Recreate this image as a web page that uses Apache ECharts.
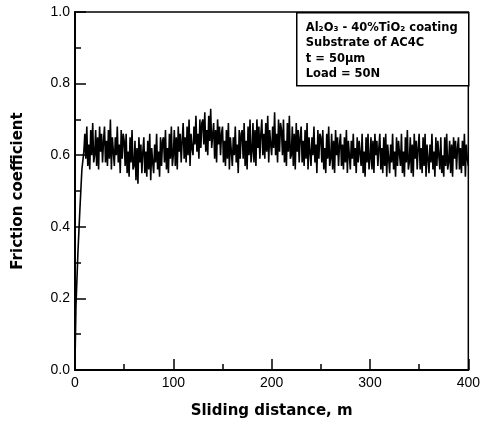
<!DOCTYPE html>
<html><head><meta charset="utf-8">
<script src="https://cdn.jsdelivr.net/npm/echarts@6/dist/echarts.min.js"></script>
<style>html,body{margin:0;padding:0;background:#fff}#c{width:483px;height:424px}</style>
</head><body><div id="c"></div>
<script>
// Run-in (start-up) segment: distance (m) and friction coefficient
const rampDistance = [0, 1, 3, 5, 7, 9];
const rampFriction = [0.02, 0.18, 0.33, 0.45, 0.56, 0.61];
// Steady-state recording: one reading per metre starting at 10 m
const steadyStart = 10;
const steadyFriction = [
0.66,0.59,0.68,0.57,0.63,0.56,0.67,0.60,0.69,0.58,
0.60,0.67,0.57,0.65,0.56,0.68,0.61,0.66,0.58,0.64,
0.68,0.58,0.64,0.57,0.67,0.59,0.70,0.56,0.65,0.61,
0.57,0.65,0.60,0.68,0.58,0.63,0.55,0.67,0.59,0.66,
0.64,0.57,0.66,0.55,0.61,0.54,0.65,0.58,0.67,0.56,
0.57,0.64,0.53,0.62,0.52,0.65,0.58,0.63,0.55,0.61,
0.65,0.55,0.61,0.54,0.64,0.56,0.66,0.53,0.62,0.58,
0.55,0.63,0.58,0.66,0.56,0.61,0.54,0.65,0.57,0.64,
0.65,0.58,0.67,0.56,0.62,0.55,0.66,0.59,0.68,0.57,
0.60,0.67,0.57,0.65,0.56,0.68,0.61,0.66,0.58,0.64,
0.69,0.59,0.65,0.58,0.68,0.60,0.70,0.57,0.66,0.62,
0.60,0.68,0.63,0.71,0.61,0.66,0.59,0.70,0.62,0.69,
0.70,0.63,0.72,0.61,0.67,0.60,0.71,0.64,0.73,0.62,
0.62,0.69,0.59,0.67,0.58,0.70,0.63,0.68,0.60,0.66,
0.68,0.58,0.64,0.57,0.67,0.59,0.69,0.56,0.65,0.61,
0.57,0.65,0.60,0.68,0.58,0.63,0.55,0.67,0.59,0.66,
0.67,0.59,0.69,0.57,0.64,0.56,0.68,0.60,0.70,0.58,
0.61,0.69,0.58,0.67,0.57,0.70,0.62,0.68,0.59,0.66,
0.70,0.60,0.66,0.59,0.69,0.61,0.71,0.58,0.67,0.63,
0.60,0.68,0.62,0.72,0.60,0.66,0.58,0.70,0.61,0.69,
0.67,0.60,0.70,0.58,0.64,0.57,0.69,0.61,0.71,0.59,
0.60,0.68,0.57,0.66,0.56,0.69,0.61,0.67,0.58,0.65,
0.68,0.58,0.64,0.57,0.67,0.59,0.69,0.56,0.65,0.61,
0.57,0.65,0.60,0.68,0.58,0.63,0.55,0.67,0.59,0.66,
0.65,0.58,0.67,0.56,0.62,0.55,0.66,0.59,0.68,0.57,
0.59,0.66,0.56,0.64,0.55,0.67,0.60,0.65,0.57,0.63,
0.66,0.57,0.63,0.56,0.65,0.58,0.67,0.55,0.64,0.60,
0.56,0.64,0.59,0.66,0.57,0.62,0.55,0.65,0.58,0.64,
0.64,0.57,0.66,0.55,0.61,0.54,0.65,0.58,0.66,0.56,
0.59,0.65,0.56,0.64,0.55,0.66,0.60,0.64,0.57,0.62,
0.66,0.56,0.62,0.55,0.65,0.57,0.66,0.54,0.63,0.59,
0.55,0.63,0.58,0.66,0.56,0.61,0.54,0.65,0.57,0.64,
0.64,0.57,0.66,0.55,0.61,0.54,0.65,0.58,0.67,0.56,
0.58,0.65,0.55,0.63,0.54,0.66,0.59,0.64,0.56,0.62,
0.66,0.56,0.62,0.55,0.65,0.57,0.66,0.54,0.63,0.59,
0.55,0.63,0.58,0.66,0.56,0.61,0.54,0.65,0.57,0.64,
0.64,0.56,0.65,0.55,0.60,0.54,0.65,0.57,0.66,0.56,
0.58,0.64,0.55,0.63,0.54,0.65,0.59,0.64,0.56,0.62,
0.65,0.56,0.62,0.55,0.64,0.57,0.66,0.54,0.63,0.59,
0.57
];
const xTicks = [0, 100, 200, 300, 400];
const yTicks = [0.0, 0.2, 0.4, 0.6, 0.8, 1.0];
const legendLines = ['Al\u2082O\u2083 - 40%TiO\u2082 coating', 'Substrate of AC4C', 't = 50\u03bcm', 'Load = 50N'];
const xTitle = 'Sliding distance, m';
const yTitle = 'Friction coefficient';

const data = [];
rampDistance.forEach((d, i) => data.push([d, rampFriction[i]]));
steadyFriction.forEach((v, i) => data.push([steadyStart + i, v]));

const chart = echarts.init(document.getElementById('c'), null, {renderer: 'canvas'});
const font = 'Liberation Sans, Arial, sans-serif';
const titleFont = 'DejaVu Sans, sans-serif';
chart.setOption({
  animation: false,
  backgroundColor: '#fff',
  grid: {left: 75, right: 14, top: 12, bottom: 54, show: true, borderColor: '#000', borderWidth: 1.5, backgroundColor: 'transparent'},
  xAxis: {
    type: 'value', min: xTicks[0], max: xTicks[xTicks.length-1], interval: 100,
    name: xTitle, nameLocation: 'middle', nameGap: 34,
    nameTextStyle: {fontFamily: titleFont, fontWeight: 'bold', fontSize: 15, color: '#000'},
    axisLine: {show: true, lineStyle: {color: '#000', width: 2}},
    axisTick: {show: true, inside: true, length: 11, lineStyle: {color: '#000', width: 1.5}},
    minorTick: {show: true, splitNumber: 2, length: 6, lineStyle: {color: '#000', width: 1.5}},
    axisLabel: {fontFamily: font, fontSize: 14, color: '#000', margin: 6},
    splitLine: {show: false}
  },
  yAxis: {
    type: 'value', min: yTicks[0], max: yTicks[yTicks.length-1], interval: 0.2,
    name: yTitle, nameLocation: 'middle', nameGap: 49, nameRotate: 90,
    nameTextStyle: {fontFamily: titleFont, fontWeight: 'bold', fontSize: 15, color: '#000'},
    axisLine: {show: true, lineStyle: {color: '#000', width: 2}},
    axisTick: {show: true, inside: true, length: 11, lineStyle: {color: '#000', width: 1.5}},
    minorTick: {show: true, splitNumber: 2, length: 6, lineStyle: {color: '#000', width: 1.5}},
    axisLabel: {fontFamily: font, fontSize: 14, color: '#000', margin: 5, formatter: v => v.toFixed(1)},
    splitLine: {show: false}
  },
  series: [{
    type: 'line', data: data, showSymbol: false, symbol: 'none',
    lineStyle: {color: '#000', width: 1.6}
  }],
  graphic: [{
    type: 'group', left: 296, top: 12,
    children: [
      {type: 'rect', shape: {x: 0, y: 0, width: 172, height: 73}, style: {fill: '#fff', stroke: '#000', lineWidth: 1.5}},
      ...legendLines.map((t, i) => ({type: 'text', x: 9, y: 9 + i * 15.5,
        style: {text: t, fontFamily: titleFont, fontWeight: 'bold', fontSize: 11.5, fill: '#000'}}))
    ]
  }]
});
</script></body></html>
